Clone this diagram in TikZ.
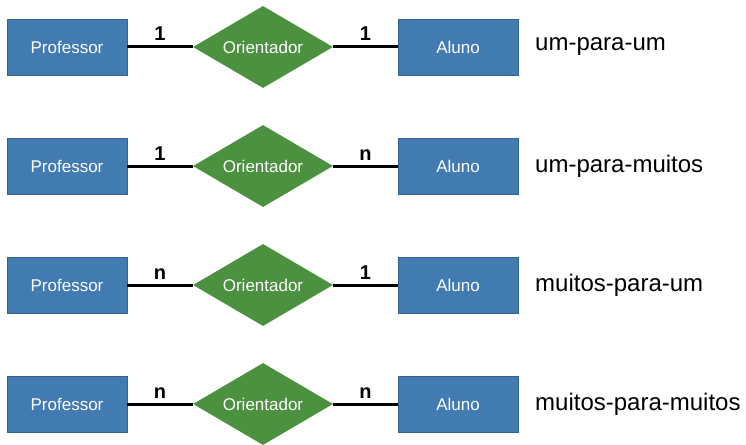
\documentclass[tikz,border=0pt]{standalone}
\usepackage{fontspec}
\setmainfont{Liberation Sans}
\usetikzlibrary{shapes.geometric}
\definecolor{entblue}{RGB}{66,122,178}
\definecolor{relgreen}{RGB}{76,145,64}
\begin{document}
\begin{tikzpicture}[x=1pt,y=-1pt,
  entity/.style={rectangle, fill=entblue, draw=entblue!80!black, line width=0.4pt,
    minimum width=120pt, minimum height=56pt, inner sep=0pt, text=white,
    font=\fontsize{17}{20}\selectfont},
  rel/.style={diamond, fill=relgreen, draw=none, minimum width=140pt, minimum height=82pt,
    inner sep=0pt, aspect=1.7, text=white, font=\fontsize{17}{20}\selectfont},
  conn/.style={line width=3pt, black},
  card/.style={font=\bfseries\fontsize{20}{24}\selectfont, inner sep=1pt, above=3.5pt},
  kind/.style={anchor=west, font=\fontsize{24}{28}\selectfont, inner sep=0pt}]
\useasboundingbox (0,0) rectangle (746,444);
\foreach \r/\y/\a/\b/\t in {1/47/1/1/um-para-um, 2/166/1/n/um-para-muitos, 3/285/n/1/muitos-para-um, 4/404/n/n/muitos-para-muitos}{
  \node[entity] (p\r) at (67,\y) {Professor};
  \node[rel] (o\r) at (263,\y) {Orientador};
  \node[entity] (a\r) at (458,\y) {Aluno};
  \node[kind] (k\r) at (535,\y) {\t};
  \draw[conn] (p\r.east) -- node[card] {\a} (o\r.west);
  \draw[conn] (o\r.east) -- node[card] {\b} (a\r.west);
}
\end{tikzpicture}
\end{document}
